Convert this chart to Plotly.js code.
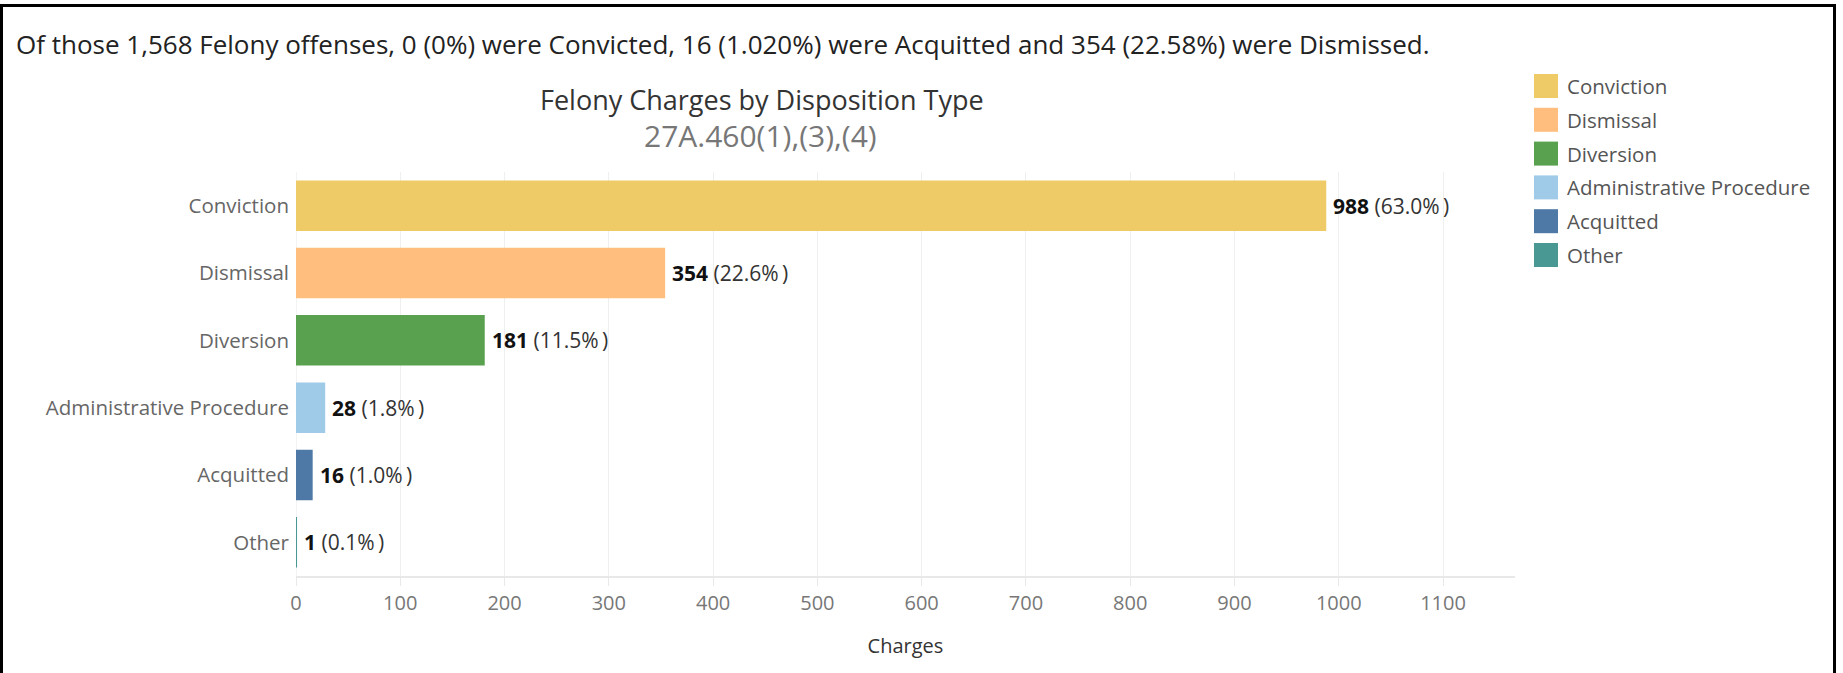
<!DOCTYPE html>
<html>
<head>
<meta charset="utf-8">
<script src="https://cdn.plot.ly/plotly-3.0.1.min.js"></script>
<style>
  html, body { margin: 0; padding: 0; background: #fff; }
  #wrap { position: relative; width: 1843px; height: 673px; overflow: hidden; }
  #chart { position: absolute; left: 0; top: 0; width: 1843px; height: 673px; }
  #frame { position: absolute; left: 0px; top: 4px; width: 1830px; height: 700px;
           border: 3px solid #000; border-bottom: none; pointer-events: none; }
</style>
</head>
<body>
<div id="wrap">
  <div id="chart"></div>
  <div id="frame"></div>
</div>
<script>
// ---- data ----
const categories = ["Conviction", "Dismissal", "Diversion", "Administrative Procedure", "Acquitted", "Other"];
const charges = [988, 354, 181, 28, 16, 1];
const percentLabels = ["63.0%", "22.6%", "11.5%", "1.8%", "1.0%", "0.1%"];
const barColors = ["#EFCB68", "#FFBE7D", "#59A14F", "#A0CBE8", "#4E79A7", "#499894"];
const xTickValues = [0, 100, 200, 300, 400, 500, 600, 700, 800, 900, 1000, 1100];

const headline = "Of those 1,568 Felony offenses, 0 (0%) were Convicted, 16 (1.020%) were Acquitted and 354 (22.58%) were Dismissed.";
const chartTitle = "Felony Charges by Disposition Type";
const chartSubtitle = "27A.460(1),(3),(4)";
const xTitle = "Charges";

// ---- layout geometry (pixels) ----
const W = 1843, H = 673;
const M = { l: 296, r: 328, t: 172, b: 97 };
const plotW = W - M.l - M.r, plotH = H - M.t - M.b;
const px = x => (x - M.l) / plotW;        // pixel -> paper x
const py = y => (H - M.b - y) / plotH;    // pixel -> paper y

const FONT = "Open Sans, Noto Sans, sans-serif";

const trace = {
  type: "bar",
  orientation: "h",
  y: categories,
  x: charges,
  marker: { color: barColors, line: { width: 0 } },
  hoverinfo: "x+y",
  showlegend: false
};

const annotations = [];
// bar value labels
categories.forEach((c, i) => {
  annotations.push({
    x: charges[i], y: c, xref: "x", yref: "y",
    xanchor: "left", yanchor: "middle", xshift: 5, showarrow: false,
    text: "<b>" + charges[i] + "</b> <span style='color:#333'>(" + percentLabels[i] + "\u2009)</span>",
    font: { family: FONT, size: 21, color: "#111" }
  });
});
// headline
annotations.push({
  xref: "paper", yref: "paper", x: px(14), y: py(44), xanchor: "left", yanchor: "middle",
  showarrow: false, text: headline, font: { family: FONT, size: 26, color: "#222" }
});
// title + subtitle
annotations.push({
  xref: "paper", yref: "paper", x: px(762), y: py(99), xanchor: "center", yanchor: "middle",
  showarrow: false, text: chartTitle, font: { family: FONT, size: 27, color: "#333" }
});
annotations.push({
  xref: "paper", yref: "paper", x: px(760), y: py(136), xanchor: "center", yanchor: "middle",
  showarrow: false, text: chartSubtitle, font: { family: FONT, size: 30, color: "#777" }
});

// legend drawn from categories/colors
const shapes = [];
const legX0 = 1534, legSw = 24, legY0 = 86, legStep = 33.8;
categories.forEach((c, i) => {
  const cy = legY0 + i * legStep;
  shapes.push({
    type: "rect", xref: "paper", yref: "paper",
    x0: px(legX0), x1: px(legX0 + legSw), y0: py(cy - legSw / 2), y1: py(cy + legSw / 2),
    fillcolor: barColors[i], line: { width: 0 }
  });
  annotations.push({
    xref: "paper", yref: "paper", x: px(1565), y: py(cy), xanchor: "left", yanchor: "middle",
    showarrow: false, text: c, font: { family: FONT, size: 20.5, color: "#555" }
  });
});

const layout = {
  width: W, height: H,
  margin: M,
  paper_bgcolor: "#fff", plot_bgcolor: "#fff",
  bargap: 0.25,
  font: { family: FONT },
  xaxis: {
    range: [0, 1169],
    tickvals: xTickValues,
    showgrid: true, gridcolor: "#efefef", gridwidth: 1,
    zeroline: false,
    showline: true, linecolor: "#e8e8e8", linewidth: 2,
    ticks: "outside", ticklen: 8, tickcolor: "#e8e8e8", tickwidth: 1,
    tickfont: { family: FONT, size: 20, color: "#777" },
    title: { text: xTitle, font: { family: FONT, size: 20, color: "#333" }, standoff: 24 },
    fixedrange: true
  },
  yaxis: {
    type: "category",
    categoryorder: "array", categoryarray: categories,
    autorange: "reversed",
    showgrid: false, zeroline: false, showline: false,
    ticks: "", ticklabelstandoff: 6,
    tickfont: { family: FONT, size: 20.5, color: "#666" },
    fixedrange: true
  },
  shapes: shapes,
  annotations: annotations
};

// vertical light line at x = 0 (the zero gridline)
layout.shapes.push({
  type: "line", xref: "x", yref: "paper", x0: 0, x1: 0, y0: 0, y1: 1,
  line: { color: "#e8e8e8", width: 1 }, layer: "below"
});

Plotly.newPlot("chart", [trace], layout, { displayModeBar: false, staticPlot: true });
</script>
</body>
</html>
